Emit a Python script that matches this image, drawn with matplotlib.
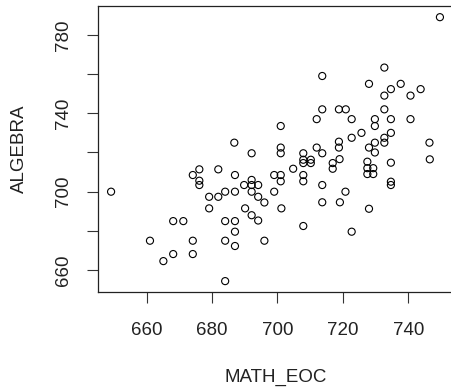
import matplotlib
matplotlib.use("Agg")
import matplotlib.pyplot as plt

# scores
math_eoc = [749.7, 732.7, 713.7, 728, 737.7, 734.7, 743.8, 732.7, 740.7, 713.7,
            718.8, 720.9, 732.7, 712, 722.7, 729.8, 734.7, 740.7, 701, 729.8,
            725.7, 734.7, 722.7, 732.7, 686.8, 718.8, 729.8, 732.7, 746.5, 701,
            712, 718.8, 728, 692.1, 701, 707.9, 713.7, 729.8, 707.9, 710.2,
            707.9, 710.2, 719, 716.9, 716.9, 727.5, 734.7, 746.6, 676.1, 681.9,
            704.8, 727.5, 729.3, 727.5, 729.3, 674.1, 687, 699, 701, 707.9,
            676.1, 676.1, 701, 707.9, 692.1, 692.1, 689.8, 694.1, 713.7, 734.7,
            734.7, 649.1, 684, 687, 692.1, 699, 720.8, 679.1, 681.9, 694.1,
            696, 713.7, 719.1, 679.1, 690.1, 701.2, 728, 692.1, 668.1, 671.2,
            684, 687, 694.1, 707.9, 687, 722.7, 661, 674.1, 684, 696,
            668.1, 674.1, 687, 665.1, 684]
algebra = [789, 763.3, 759, 755, 755, 752.3, 752.3, 749, 749, 742,
           742, 742, 742, 737, 737, 737, 737, 737, 733.5, 733.5,
           730, 730, 727.5, 727.5, 725, 725.5, 725, 725, 725, 722.5,
           722.5, 722.5, 722.5, 719.6, 719.6, 719.6, 719.6, 720, 716.3, 716.3,
           714.6, 714.6, 716.6, 714.6, 711.7, 715.3, 714.8, 716.5, 711.4, 711.4,
           711.7, 712, 712, 709, 709, 708.5, 708.5, 708.5, 708.5, 708.5,
           705.6, 703.4, 705.3, 705.3, 706, 703.4, 703.4, 703.4, 703.4, 705.1,
           703.4, 700, 700, 700, 700, 700, 700, 697.4, 697.4, 697.4,
           694.5, 694.6, 694.6, 691.5, 691.5, 691.5, 691.3, 688, 685, 685,
           685, 685, 685.3, 682.5, 679.6, 679.6, 675, 675, 675, 675,
           668.2, 668.2, 672.3, 664.6, 654.4]

x_ticks = [660, 680, 700, 720, 740]
y_ticks = [660, 680, 700, 720, 740, 760, 780]
y_labels = ['660', '', '700', '', '740', '', '780']

plt.rcParams['font.family'] = ['Liberation Sans', 'DejaVu Sans']

fig = plt.figure(figsize=(4.52, 3.89), dpi=100)
ax = fig.add_axes([98 / 452, 1 - 291.7 / 389, 355 / 452, 285.7 / 389])

ax.scatter(math_eoc, algebra, s=26, facecolors='none', edgecolors='black', linewidths=0.8)

ax.set_xlim(645.1, 753.7)
ax.set_ylim(649.0, 794.7)

ax.set_xticks(x_ticks)
ax.set_yticks(y_ticks)
ax.set_yticklabels(y_labels, rotation=90, va='center')
ax.tick_params(axis='both', length=8, width=0.8, color='#333333', labelsize=13.5,
               labelcolor='#222222')
ax.tick_params(axis='x', pad=13.5)
ax.tick_params(axis='y', pad=11)

for sp in ax.spines.values():
    sp.set_color('#222222')
    sp.set_linewidth(0.9)

ax.set_xlabel('MATH_EOC', fontsize=13.5, color='#222222', labelpad=22)
ax.set_ylabel('ALGEBRA', fontsize=13.5, color='#222222', labelpad=19)

fig.savefig('out.png', dpi=100)
